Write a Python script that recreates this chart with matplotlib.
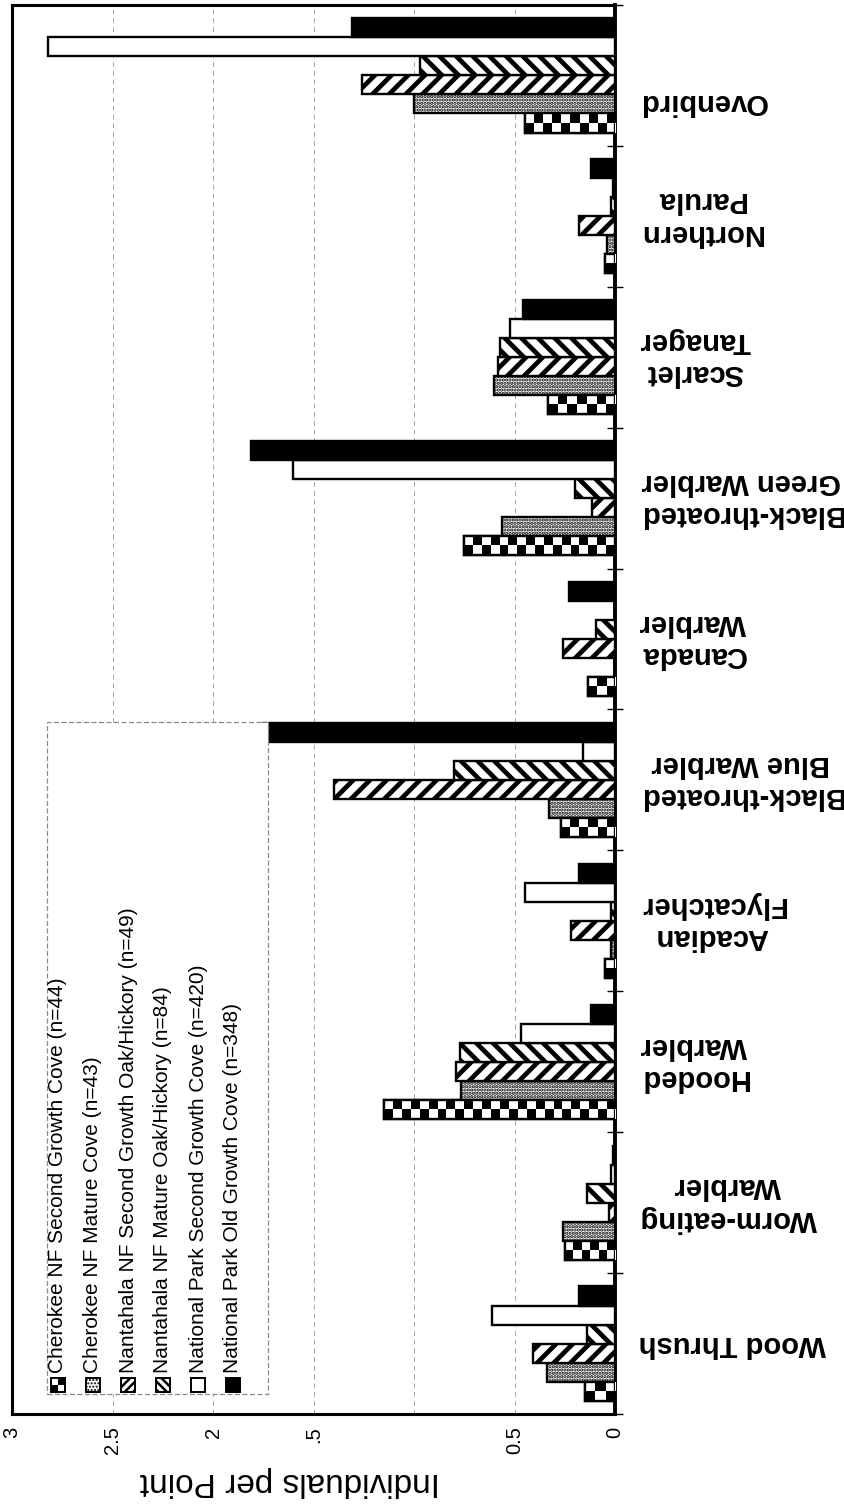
import numpy as np
import matplotlib
matplotlib.use('Agg')
import matplotlib.pyplot as plt
from matplotlib.patches import Rectangle

# ---------------- data ----------------
categories = ['Wood Thrush', 'Worm-eating\nWarbler', 'Hooded\nWarbler',
              'Acadian\nFlycatcher', 'Black-throated\nBlue Warbler',
              'Canada\nWarbler', 'Black-throated\nGreen Warbler',
              'Scarlet\nTanager', 'Northern\nParula', 'Ovenbird']
series_names = ['Cherokee NF Second Growth Cove (n=44)',
                'Cherokee NF Mature Cove (n=43)',
                'Nantahala NF Second Growth Oak/Hickory (n=49)',
                'Nantahala NF Mature Oak/Hickory (n=84)',
                'National Park Second Growth Cove (n=420)',
                'National Park Old Growth Cove (n=348)']
cherokee_second = [0.15, 0.25, 1.15, 0.05, 0.27, 0.135, 0.75, 0.335, 0.05, 0.45]
cherokee_mature = [0.34, 0.26, 0.765, 0.02, 0.33, 0.0, 0.56, 0.60, 0.04, 1.00]
nantahala_second = [0.41, 0.03, 0.79, 0.22, 1.40, 0.26, 0.115, 0.58, 0.18, 1.26]
nantahala_mature = [0.14, 0.14, 0.77, 0.02, 0.80, 0.095, 0.20, 0.57, 0.02, 0.97]
park_second = [0.61, 0.02, 0.47, 0.45, 0.16, 0.0, 1.60, 0.52, 0.01, 2.82]
park_old = [0.18, 0.01, 0.12, 0.18, 1.75, 0.23, 1.81, 0.46, 0.12, 1.31]
x_ticks = [0, 0.5, 1, 1.5, 2, 2.5, 3]
x_tick_labels = ['0', '0.5', '', '.5', '2', '2.5', '3']
y_label = 'Individuals per Point'

series_values = [cherokee_second, cherokee_mature, nantahala_second,
                 nantahala_mature, park_second, park_old]

# ---------------- figure ----------------
W, H = 844, 1504
fig = plt.figure(figsize=(W / 100, H / 100), dpi=100)
fig.patch.set_facecolor('white')
ax = fig.add_axes([12 / W, 90 / H, 603 / W, 1409 / H])

SANS = ['Liberation Sans', 'DejaVu Sans']

bar_h = 0.135
n_series = len(series_values)
ypos = np.arange(len(categories))

styles = [
    dict(facecolor='white', hatch=None, lw_h=1.0),      # checker (drawn with image)
    dict(facecolor='white', hatch='.....', lw_h=1.6),   # dotted
    dict(facecolor='white', hatch='//', lw_h=3.4),      # forward stripes
    dict(facecolor='white', hatch='\\\\', lw_h=3.4),    # back stripes
    dict(facecolor='white', hatch=None, lw_h=1.0),      # white
    dict(facecolor='black', hatch=None, lw_h=1.0),      # black
]

for k, (vals, st) in enumerate(zip(series_values, styles)):
    offs = (k - (n_series - 1) / 2) * bar_h
    with plt.rc_context({'hatch.linewidth': st['lw_h']}):
        bars = ax.barh(ypos + offs, vals, height=bar_h, color=st['facecolor'],
                       edgecolor='black', linewidth=1.7, hatch=st['hatch'],
                       zorder=3)
        for r in bars:
            if hasattr(r, 'set_hatch_linewidth'):
                r.set_hatch_linewidth(st['lw_h'])
    if k == 0:
        # checkerboard fill clipped to each bar
        for r in bars:
            x0, w = r.get_x(), r.get_width()
            y0, h = r.get_y(), r.get_height()
            if w <= 0:
                continue
            ncol = max(1, int(round(w / 0.045)))
            arr = (np.add.outer(np.arange(2), np.arange(ncol)) % 2).astype(float)
            im = ax.imshow(arr, cmap='gray', vmin=0, vmax=1, extent=(x0 + w, x0, y0, y0 + h),
                           origin='lower', interpolation='nearest', aspect='auto', zorder=3.5)
            im.set_clip_path(r)
        ax.barh(ypos + offs, vals, height=bar_h, fill=False, edgecolor='black',
                linewidth=1.7, zorder=4)

ax.set_xlim(3, 0)
ax.set_ylim(-0.5, len(categories) - 0.5)

# spines
for s in ['top', 'left', 'bottom']:
    ax.spines[s].set_linewidth(2.2)
ax.spines['right'].set_linewidth(2.8)

# x ticks
ax.set_xticks(x_ticks)
ax.set_xticklabels(x_tick_labels, rotation=90, fontsize=14.5, family=SANS)
ax.tick_params(axis='x', length=0, pad=9)
ax.grid(axis='x', color='#a5a5a5', linewidth=0.7, linestyle=(0, (5, 4)))
ax.set_axisbelow(True)

# y ticks at category boundaries on the zero axis
ax.set_yticks(np.arange(len(categories) + 1) - 0.5)
ax.set_yticklabels([])
ax.tick_params(axis='y', left=False, right=True, direction='inout', length=12, width=1)

# category labels (upside down)
label_shift_px = [0, 0, 0, 0, 0, 0, 0, 0, 0, -27]
px_per_cat = 1409 / len(categories)
for i, c in enumerate(categories):
    ax.text(1 + 24 / 603, i + label_shift_px[i] / px_per_cat, c,
            transform=ax.get_yaxis_transform(), rotation=180,
            ha='left', va='center', multialignment='center', fontsize=21,
            fontweight='bold', family=SANS)

# axis label (upside down)
fig.text(290 / W, 1 - 1481 / H, y_label, rotation=180, ha='center', va='center',
         fontsize=24, family=SANS)

# ---------------- legend (rotated) ----------------
def P(x, y):
    return (x / W, 1 - y / H)

lx0, lx1, ly0, ly1 = 47, 268, 722, 1394
fig.add_artist(Rectangle(P(lx0, ly1), (lx1 - lx0) / W, (ly1 - ly0) / H,
                         transform=fig.transFigure, facecolor='white',
                         edgecolor='#8a8a8a', linewidth=0.9, linestyle=(0, (4, 2)),
                         zorder=5))
col_x = [58, 93, 128, 163, 198, 233]
icon_hatches = [None, '.....', '////', '\\\\\\\\', None, None]
icon = 14
for k, name in enumerate(series_names):
    cx = col_x[k]
    ix, iy = cx - icon / 2, 1385 + icon / 2
    st = styles[k]
    if k == 0:
        half = icon / 2
        for a in range(2):
            for b in range(2):
                fc = 'black' if (a + b) % 2 == 0 else 'white'
                fig.add_artist(Rectangle(P(ix + a * half, iy - b * half), half / W, half / H,
                                         transform=fig.transFigure, facecolor=fc,
                                         edgecolor='none', zorder=6))
        fig.add_artist(Rectangle(P(ix, iy), icon / W, icon / H, transform=fig.transFigure,
                                 fill=False, edgecolor='black', linewidth=1.4, zorder=7))
    else:
        lwh = 1.8 if k in (2, 3) else 1.0
        with plt.rc_context({'hatch.linewidth': lwh}):
            rp = Rectangle(P(ix, iy), icon / W, icon / H, transform=fig.transFigure,
                           facecolor=st['facecolor'], edgecolor='black', linewidth=1.4,
                           hatch=icon_hatches[k], zorder=6)
            if hasattr(rp, 'set_hatch_linewidth'):
                rp.set_hatch_linewidth(lwh)
            fig.add_artist(rp)
    fig.text(cx / W, 1 - 1373 / H, name, rotation=90, ha='center', va='bottom',
             fontsize=15, family=SANS, zorder=8)

fig.savefig('out.png', dpi=100)
